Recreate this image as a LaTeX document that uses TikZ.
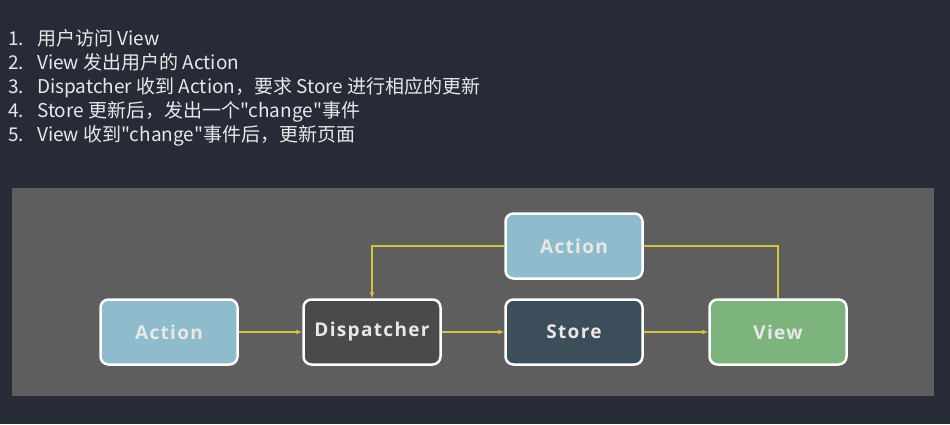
\documentclass[tikz,border=0pt]{standalone}
\usepackage{fontspec}
\setmainfont{Open Sans}
\newfontfamily\cjk{Noto Sans CJK SC}
\newfontfamily\boxfont[LetterSpace=7]{Open Sans}
\usetikzlibrary{arrows.meta}
\definecolor{bgdark}{HTML}{262B37}
\definecolor{panelgray}{HTML}{5E5E5E}
\definecolor{actionblue}{HTML}{8FBCCD}
\definecolor{dispgray}{HTML}{4A4A4A}
\definecolor{storeblue}{HTML}{3D4E5B}
\definecolor{viewgreen}{HTML}{7DB47E}
\definecolor{flowyellow}{HTML}{D6C23E}
\definecolor{textlight}{HTML}{E8E8E8}
\begin{document}
\begin{tikzpicture}[x=1pt,y=-1pt]
	\tikzstyle{box}=[rectangle,rounded corners=8pt,draw=white,line width=2.5pt,minimum width=137pt,minimum height=65pt,text=textlight,font=\boxfont\bfseries\fontsize{19}{21}\selectfont]
	\tikzstyle{edge}=[draw, line width=1.2pt, flowyellow, -{Latex[length=6pt,width=5pt]}]
	\tikzstyle{link}=[draw, line width=1.2pt, flowyellow]
	\tikzstyle{item}=[anchor=base west,inner sep=0pt,text=textlight,font=\cjk\fontsize{19}{21}\selectfont]
	% background and panel
	\fill[bgdark] (0,0) rectangle (950,424);
	\fill[panelgray] (12,188) rectangle (934,396);
	% steps
	\node [item] (n1) at (8,45) {1.};
	\node [item] (n2) at (8,69) {2.};
	\node [item] (n3) at (8,93) {3.};
	\node [item] (n4) at (8,117) {4.};
	\node [item] (n5) at (8,141) {5.};
	\node [item] (t1) at (37,45) {用户访问 View};
	\node [item] (t2) at (37,69) {View 发出用户的 Action};
	\node [item] (t3) at (37,93) {Dispatcher 收到 Action，要求 Store 进行相应的更新};
	\node [item] (t4) at (37,117) {Store 更新后，发出一个"change"事件};
	\node [item] (t5) at (37,141) {View 收到"change"事件后，更新页面};
	% flow
	\node [box,fill=actionblue] (act1) at (169,332) {Action};
	\node [box,fill=dispgray] (disp) at (372,332) {Dispatcher};
	\node [box,fill=storeblue] (store) at (574,332) {Store};
	\node [box,fill=actionblue] (act2) at (574,246) {Action};
	\node [box,fill=viewgreen] (view) at (778,332) {View};
	\path[edge] (act1) -- (disp);
	\path[edge] (disp) -- (store);
	\path[edge] (store) -- (view);
	\path[edge] (act2.west) -| (disp.north);
	\path[link] (act2.east) -| (view.north);
\end{tikzpicture}
\end{document}
